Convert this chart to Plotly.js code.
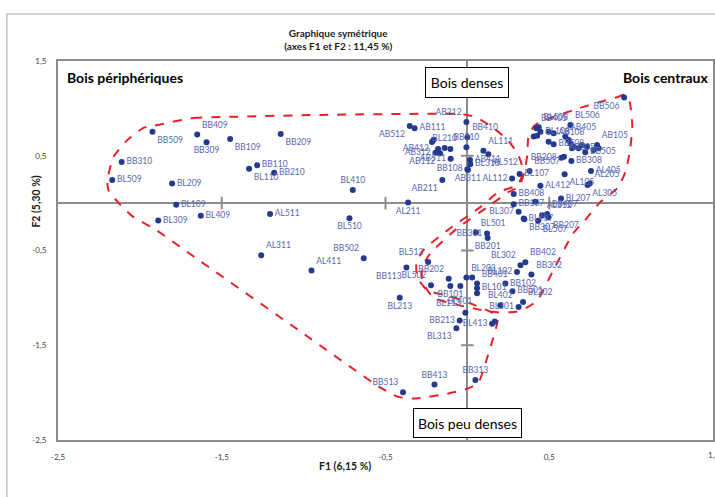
<!DOCTYPE html>
<html><head><meta charset="utf-8">
<script src="https://cdn.plot.ly/plotly-3.0.1.min.js"></script>
<style>html,body{margin:0;padding:0;background:#fff}#chart{width:715px;height:497px}</style>
</head><body><div id="chart"></div>
<script>
// ---- data ----
const labels = ["BB509","BB409","BB309","BB109","BB209","BB310","BL509","BL209","BB110","BL110","BB210","BL109","BL409","AL511","BL309","BL510","AL311","AL411","BB502","BL410","AL211",
"AB212","AB512","AB111","BB410","AL111","AL512","AB412","AB312","AB112","BL210","AB511","","","","BB510","AB411","BL310","BB108","AB311","AB211","AL112",
"BB506","BL506","BB208","BB308","BB507","BL107","AL105","AL405","AL412","AL205","AL305","BL207","BB408","BB107","","BL307","AL312","BB407","BB307","BL407","BB207","BL507",
"BL508","BB405","BL108","","","AB405","AB108","","BB508","","","","","","","","AB105","","BB505","AB305","","",
"BL501","BB301","BB201","BL302","BB402","BL102","BB302","BB102","BB501","BB202","BL203","","BL513","BB113","BL502","BB401","BL101","BL401","BB101","","BL402","BL202","BL301",
"BL213","BL113","BB213","BL313","BL413","","BB313","BB413","BB513"];
const f1 = [-1.923,-1.650,-1.593,-1.449,-1.140,-2.111,-2.169,-1.803,-1.284,-1.333,-1.180,-1.778,-1.628,-1.205,-1.888,-0.720,-1.259,-0.952,-0.633,-0.700,-0.362,
-0.006,-0.352,-0.322,0.000,0.098,0.128,-0.206,-0.195,-0.167,-0.139,-0.102,-0.179,-0.104,-0.216,-0.006,0.016,0.018,0.000,0.003,-0.153,0.273,
0.957,0.629,0.574,0.635,0.380,0.319,0.594,0.755,0.446,0.747,0.734,0.572,0.283,0.283,0.415,0.313,0.456,0.487,0.348,0.344,0.494,0.432,
0.436,0.421,0.446,0.405,0.426,0.598,0.527,0.496,0.527,0.618,0.629,0.649,0.639,0.679,0.700,0.731,0.792,0.802,0.720,0.590,0.771,0.496,
0.053,0.120,0.124,0.324,0.354,0.303,0.391,0.232,0.275,-0.114,-0.006,0.029,-0.240,-0.372,-0.222,0.059,0.059,0.059,-0.104,-0.043,0.201,0.340,0.313,
-0.413,-0.012,-0.047,-0.067,0.151,0.167,0.049,-0.201,-0.393];
const f2 = [0.754,0.723,0.642,0.677,0.730,0.434,0.243,0.208,0.399,0.363,0.321,-0.018,-0.134,-0.116,-0.183,-0.159,-0.550,-0.712,-0.582,0.138,0.007,
0.857,0.815,0.790,0.695,0.553,0.515,0.670,0.532,0.526,0.582,0.469,0.571,0.571,0.646,0.589,0.455,0.410,0.357,0.350,0.243,0.261,
1.114,0.825,0.479,0.444,0.339,0.307,0.304,0.339,0.183,0.208,0.190,0.050,0.095,-0.011,0.014,-0.092,-0.127,-0.116,-0.169,-0.162,-0.148,-0.187,
0.801,0.790,0.754,0.702,0.712,0.702,0.738,0.649,0.621,0.667,0.632,0.596,0.579,0.579,0.614,0.596,0.614,0.579,0.537,0.490,0.561,0.754,
-0.310,-0.321,-0.367,-0.656,-0.624,-0.727,-0.754,-0.847,-0.931,-0.797,-0.786,-0.786,-0.621,-0.680,-0.868,-0.847,-0.899,-0.952,-0.875,-0.875,-1.079,-1.044,-1.097,
-0.998,-1.157,-1.238,-1.320,-1.273,-1.249,-1.866,-1.915,-1.997];
const tickVals = [-2.5,-1.5,-0.5,0.5,1.5];
const tickText = ["-2,5","-1,5","-0,5","0,5","1,5"];
const crossTicks = [-1.5,-0.5,0.5];

// ---- label placement (style only) ----
const labelPos = ["bottom right","top right","bottom center","bottom right","bottom right","middle right","middle right","middle right","middle right","bottom right","middle right","middle right","middle right","middle right","middle right","bottom center","top right","top right","top left","top center","bottom center",
"top left","bottom left","middle right","top right","top right","bottom right","bottom left","middle left","bottom left","top center","middle left","middle right","middle right","middle right","top center","middle right","middle right","middle left","bottom center","bottom left","middle left",
"bottom left","top right","middle left","middle right","top right","middle right","bottom right","middle right","middle right","top right","bottom right","middle right","middle right","middle right","middle right","middle left","top right","top right","bottom right","middle right","bottom right","bottom right",
"top right","top right","middle right","middle right","middle right","top right","middle right","middle right","middle right","middle right","middle right","middle right","middle right","middle right","middle right","middle right","top right","middle right","middle right","top right","middle right","middle right",
"top right","middle left","bottom center","top left","top right","middle left","top right","middle right","middle right","top left","top right","middle right","top left","bottom left","top left","top right","middle right","bottom left","bottom center","middle right","top center","top right","middle left",
"bottom center","top left","middle left","bottom left","middle left","middle right","top center","top center","top left"];

// ---- group outlines (decorative, data coords) ----
const outlineA = [[-1.917,0.815],[-1.673,0.899],[-1.465,0.910],[-0.897,0.931],[-0.073,0.942],[0.000,0.931],[0.061,0.899],[0.159,0.794],[0.244,0.667],[0.305,0.529],[0.336,0.381],[0.336,0.296],[0.305,0.190],[0.189,0.116],[0.079,-0.042],[-0.122,-0.286],[-0.269,-0.497],[-0.311,-0.635],[-0.305,-0.783],[-0.244,-0.921],[-0.122,-0.974],[0.018,-1.058],[0.147,-1.153],[0.183,-1.196],[0.183,-1.259],[0.153,-1.450],[0.110,-1.693],[0.067,-1.894],[0.000,-1.958],[-0.122,-2.011],[-0.330,-2.063],[-0.427,-2.042],[-0.531,-1.947],[-1.020,-1.354],[-1.630,-0.614],[-1.917,-0.265],[-2.039,-0.148],[-2.118,-0.021],[-2.192,0.138],[-2.198,0.243],[-2.161,0.487],[-2.076,0.667],[-1.978,0.794],[-1.917,0.815]];
const outlineB = [[0.983,1.122],[0.952,1.143],[0.922,1.122],[0.812,1.069],[0.708,1.016],[0.507,0.899],[0.446,0.857],[0.403,0.804],[0.372,0.688],[0.366,0.508],[0.348,0.328],[0.317,0.180],[0.250,0.116],[0.140,-0.021],[-0.061,-0.265],[-0.226,-0.529],[-0.275,-0.677],[-0.275,-0.815],[-0.208,-0.995],[0.037,-1.111],[0.183,-1.153],[0.305,-1.143],[0.366,-1.101],[0.427,-1.026],[0.525,-0.709],[0.647,-0.317],[0.708,-0.201],[0.812,0.011],[0.916,0.159],[0.965,0.328],[0.995,0.582],[1.007,0.825],[0.995,1.037],[0.983,1.122]];

const FONT = "Lato, 'Open Sans', sans-serif";
const GRAY = "#8c8c8c";

function outlineTrace(pts){
  return {x: pts.map(p=>p[0]), y: pts.map(p=>p[1]), mode:"lines", hoverinfo:"skip", showlegend:false,
          line:{color:"#e8202a", width:2, dash:"dash", shape:"spline", smoothing:0.6}};
}

const traces = [
  outlineTrace(outlineA),
  outlineTrace(outlineB),
  {x: crossTicks, y: crossTicks.map(()=>0), mode:"markers", hoverinfo:"skip", showlegend:false,
   marker:{symbol:"line-ns-open", size:9, color:GRAY, line:{color:GRAY, width:2}}},
  {x: crossTicks.map(()=>0), y: [0.5,-0.5,-1.5], mode:"markers", hoverinfo:"skip", showlegend:false,
   marker:{symbol:"line-ew-open", size:9, color:GRAY, line:{color:GRAY, width:2}}},
  {x: f1, y: f2, text: labels, mode:"markers+text", textposition: labelPos, showlegend:false,
   marker:{color:"#233a8f", size:6},
   textfont:{family:FONT, size:8.5, color:"#5566b0"}, cliponaxis:false}
];

const layout = {
  width:715, height:497,
  margin:{l:58, r:2, t:61, b:57},
  paper_bgcolor:"#fff", plot_bgcolor:"#fff",
  showlegend:false,
  title:{text:"<b>Graphique symétrique</b><br><b>(axes F1 et F2 : 11,45 %)</b>", x:0.473, xanchor:"center", y:0.925, yanchor:"middle",
         font:{family:FONT, size:10, color:"#1a1a1a"}},
  xaxis:{range:[-2.5,1.5], tickvals:tickVals, ticktext:tickText, showgrid:false, zeroline:true, zerolinecolor:GRAY, zerolinewidth:2,
         showline:true, linecolor:GRAY, linewidth:2, mirror:true, ticks:"", ticklabelstandoff:8,
         tickfont:{family:FONT, size:8, color:"#404040"}, fixedrange:true},
  yaxis:{range:[-2.5,1.5], tickvals:tickVals, ticktext:tickText, showgrid:false, zeroline:true, zerolinecolor:GRAY, zerolinewidth:2,
         showline:true, linecolor:GRAY, linewidth:2, mirror:true, ticks:"", ticklabelstandoff:8,
         tickfont:{family:FONT, size:8, color:"#404040"}, fixedrange:true},
  shapes:[
    {type:"rect", xref:"paper", yref:"paper", x0:-0.078, x1:1.2, y0:-0.3, y1:1.124, line:{color:"#a6a6a6", width:1}, layer:"below"}
  ],
  annotations:[
    {xref:"x", yref:"paper", x:tickVals[4], y:-0.04, text:tickText[4], showarrow:false, xanchor:"center", yanchor:"middle",
     font:{family:FONT, size:8, color:"#404040"}},
    {xref:"paper", yref:"paper", x:0.438, y:-0.068, text:"<b>F1 (6,15 %)</b>", showarrow:false, xanchor:"center", yanchor:"middle",
     font:{family:FONT, size:10.5, color:"#1a1a1a"}},
    {xref:"paper", yref:"paper", x:-0.033, y:0.63, text:"<b>F2 (5,30 %)</b>", showarrow:false, textangle:-90, xanchor:"center", yanchor:"middle",
     font:{family:FONT, size:10.5, color:"#1a1a1a"}},
    {xref:"paper", yref:"paper", x:0.011, y:0.957, text:"<b>Bois périphériques</b>", showarrow:false, xanchor:"left", yanchor:"middle",
     font:{family:FONT, size:14, color:"#000"}},
    {xref:"paper", yref:"paper", x:0.997, y:0.957, text:"<b>Bois centraux</b>", showarrow:false, xanchor:"right", yanchor:"middle",
     font:{family:FONT, size:14, color:"#000"}},
    {xref:"x", yref:"paper", x:0, y:0.943, text:"Bois denses", showarrow:false, xanchor:"center", yanchor:"middle",
     width:80, height:27, bgcolor:"#fff", bordercolor:"#000", borderwidth:1, borderpad:1,
     font:{family:FONT, size:14, color:"#000"}},
    {xref:"x", yref:"paper", x:0, y:0.045, text:"Bois peu denses", showarrow:false, xanchor:"center", yanchor:"middle",
     width:105, height:26, bgcolor:"#fff", bordercolor:"#000", borderwidth:1, borderpad:1,
     font:{family:FONT, size:14, color:"#000"}}
  ]
};
Plotly.newPlot("chart", traces, layout, {displayModeBar:false, staticPlot:true});
</script></body></html>
